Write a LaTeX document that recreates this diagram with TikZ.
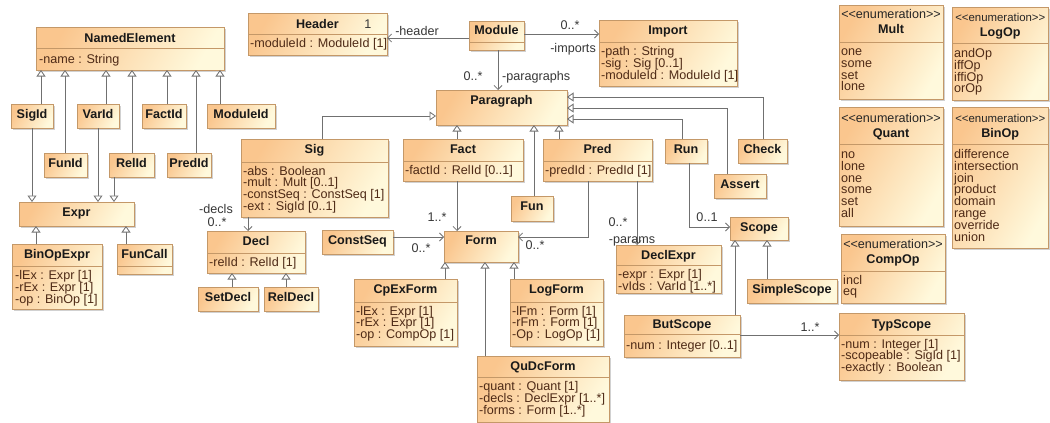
\documentclass[tikz,border=0pt]{standalone}
\usepackage{fontspec}
\newfontfamily\uml{Liberation Sans}
\usetikzlibrary{arrows.meta,shadows,calc}
\definecolor{umlL}{RGB}{250,198,142}
\definecolor{umlR}{RGB}{255,249,220}
\definecolor{umlBorder}{RGB}{196,152,104}
\definecolor{umlText}{RGB}{78,42,22}
\definecolor{umlLine}{RGB}{112,112,112}
\definecolor{umlLbl}{RGB}{55,55,55}
\newcommand\umlsize{\fontsize{12.6}{11.8}\selectfont}
\tikzset{
  cls/.style={draw=umlBorder, line width=0.8pt, left color=umlL, right color=umlR, shading angle=60,
    drop shadow={shadow xshift=2.2pt,shadow yshift=-2.2pt,fill=black!40,opacity=0.45},
    inner sep=0pt, outer sep=0pt, anchor=north west},
  divl/.style={draw=umlBorder, line width=0.8pt},
  ttl/.style={font=\uml\umlsize\bfseries, text=black!90, inner sep=0pt, text height=9pt, text depth=0pt},
  att/.style={font=\uml\umlsize, text=umlText, inner sep=0pt, anchor=west, text height=9pt, text depth=0pt},
  ster/.style={font=\uml\umlsize, text=black!85, inner sep=0pt, text height=9pt, text depth=0pt},
  sters/.style={ster, font=\uml\fontsize{11.4}{11.8}\selectfont},
  lbl/.style={font=\uml\umlsize, text=umlLbl, inner sep=0pt, text height=9pt, text depth=0pt},
  gen/.style={draw=umlLine, line width=0.8pt, -{Triangle[open, length=6.5pt, width=9pt, fill=white]}},
  assoc/.style={draw=umlLine, line width=0.8pt, -{Straight Barb[length=4pt, width=8pt]}},
}
% name, x1, y1, x2, y2, title, title y
\newcommand\uclass[7]{%
  \node[cls, minimum width={#4-#2}, minimum height={#5-#3}] (#1) at (#2,#3) {};
  \node[ttl] (#1-t) at ({(#2+#4)/2},#7) {#6};}
\newcommand\udiv[2]{\draw[divl] (#1.west |- 0,#2) -- (#1.east |- 0,#2);}
% name, x, first y, list
\newcommand\uattrs[4]{%
  \foreach \t [count=\i from 1] in {#4} {\node[att] (#1-a\i) at (#2,{#3+(\i-1)*11.8}) {\t};}}
\newcommand\uster[4][ster]{\node[#1] (#2-s) at ({#3},#4) {<\kern0pt<enumeration>\kern0pt>};}
\begin{document}
\begin{tikzpicture}[x=1pt,y=-1pt]
\useasboundingbox (0,0) rectangle (1050,423);
\clip (0,0) rectangle (1050,423);
\fill[white] (0,0) rectangle (1050,423);

% ---- left identifier hierarchy
\uclass{NE}{36}{27}{224}{70}{NamedElement}{37.5}
\udiv{NE}{48}
\uattrs{NE}{39}{58.5}{{-name : String}}
\uclass{SigId}{11}{104}{53}{128}{SigId}{114}
\uclass{VarId}{77}{104}{119}{128}{VarId}{114}
\uclass{FactId}{142}{104}{186}{128}{FactId}{114}
\uclass{ModuleId}{207}{104}{275}{128}{ModuleId}{114}
\uclass{FunId}{44}{153}{87}{177}{FunId}{163}
\uclass{RelId}{109}{153}{154}{177}{RelId}{163}
\uclass{PredId}{167}{153}{211}{177}{PredId}{163}
\uclass{Expr}{19}{202}{134}{226}{Expr}{212}
\uclass{BinOpExpr}{12}{244}{102}{309}{BinOpExpr}{254}
\udiv{BinOpExpr}{266}
\uattrs{BinOpExpr}{15}{275}{{-lEx : Expr [1]},{-rEx : Expr [1]},{-op : BinOp [1]}}
\uclass{FunCall}{117}{244}{172}{274}{FunCall}{254}
\udiv{FunCall}{266}

% ---- module
\uclass{Header}{248}{13}{387}{55}{Header}{23.5}
\udiv{Header}{34}
\uattrs{Header}{250}{43}{{-moduleId : ModuleId [1]}}
\uclass{Module}{469}{21}{524}{50}{Module}{30}
\udiv{Module}{42}
\uclass{Import}{599}{20}{737}{86}{Import}{30}
\udiv{Import}{42}
\uattrs{Import}{601}{51}{{-path : String},{-sig : Sig [0..1]},{-moduleId : ModuleId [1]}}
\uclass{Paragraph}{436}{90}{567}{125}{Paragraph}{100}

% ---- paragraphs
\uclass{Sig}{241}{139}{388}{217}{Sig}{149}
\udiv{Sig}{162}
\uattrs{Sig}{243}{170.5}{{-abs : Boolean},{-mult : Mult [0..1]},{-constSeq : ConstSeq [1]},{-ext : SigId [0..1]}}
\uclass{Fact}{403}{139}{523}{181}{Fact}{149}
\udiv{Fact}{161}
\uattrs{Fact}{405}{170}{{-factId : RelId [0..1]}}
\uclass{Pred}{543}{139}{652}{181}{Pred}{149}
\udiv{Pred}{161}
\uattrs{Pred}{545}{170}{{-predId : PredId [1]}}
\uclass{Run}{665}{139}{707}{163}{Run}{149}
\uclass{Check}{738}{139}{787}{163}{Check}{149}
\uclass{Assert}{714}{174}{766}{198}{Assert}{184}
\uclass{Fun}{511}{196}{553}{221}{Fun}{206}

% ---- declarations / formulas
\uclass{Decl}{207}{231}{305}{273}{Decl}{241}
\udiv{Decl}{253}
\uattrs{Decl}{209}{261.5}{{-relId : RelId [1]}}
\uclass{SetDecl}{198}{287}{258}{311}{SetDecl}{297}
\uclass{RelDecl}{264}{287}{318}{311}{RelDecl}{297}
\uclass{ConstSeq}{322}{230}{393}{254}{ConstSeq}{240}
\uclass{Form}{444}{231}{518}{262}{Form}{240}
\uclass{CpExForm}{354}{279}{457}{346}{CpExForm}{289}
\udiv{CpExForm}{302}
\uattrs{CpExForm}{356}{310.5}{{-lEx : Expr [1]},{-rEx : Expr [1]},{-op : CompOp [1]}}
\uclass{LogForm}{510}{279}{603}{346}{LogForm}{289}
\udiv{LogForm}{302}
\uattrs{LogForm}{512}{310.5}{{-lFm : Form [1]},{-rFm : Form [1]},{-Op : LogOp [1]}}
\uclass{QuDcForm}{477}{356}{609}{422}{QuDcForm}{366}
\udiv{QuDcForm}{377}
\uattrs{QuDcForm}{479}{386}{{-quant : Quant [1]},{-decls : DeclExpr [1..*]},{-forms : Form [1..*]}}
\uclass{DeclExpr}{616}{245}{721}{293}{DeclExpr}{255}
\udiv{DeclExpr}{265}
\uattrs{DeclExpr}{618}{274}{{-expr : Expr [1]},{-vIds : VarId [1..*]}}

% ---- scopes
\uclass{Scope}{730}{217}{788}{240}{Scope}{227}
\uclass{SimpleScope}{747}{279}{837}{303}{SimpleScope}{289}
\uclass{ButScope}{624}{315}{740}{357}{ButScope}{324}
\udiv{ButScope}{334}
\uattrs{ButScope}{626}{345}{{-num : Integer [0..1]}}
\uclass{TypScope}{839}{313}{964}{380}{TypScope}{323.5}
\udiv{TypScope}{335}
\uattrs{TypScope}{841}{343.5}{{-num : Integer [1]},{-scopeable : SigId [1]},{-exactly : Boolean}}

% ---- enumerations
\uclass{Mult}{839}{5}{943}{99}{Mult}{29.5}
\uster{Mult}{891}{14.5}
\udiv{Mult}{42}
\uattrs{Mult}{841}{51}{one,some,set,lone}
\uclass{LogOp}{952}{7}{1048.5}{100}{LogOp}{32}
\uster[sters]{LogOp}{1000.3}{16.5}
\udiv{LogOp}{43}
\uattrs{LogOp}{954}{53}{andOp,iffOp,iffiOp,orOp}
\uclass{Quant}{839}{107}{943}{226}{Quant}{133}
\uster{Quant}{891}{117.5}
\udiv{Quant}{144}
\uattrs{Quant}{841}{154}{no,lone,one,some,set,all}
\uclass{BinOp}{952}{107}{1048.5}{248}{BinOp}{133}
\uster[sters]{BinOp}{1000.3}{117.5}
\udiv{BinOp}{144}
\uattrs{BinOp}{954}{154}{difference,intersection,join,product,domain,range,override,union}
\uclass{CompOp}{841}{234}{945}{303}{CompOp}{258.5}
\uster{CompOp}{893}{243.5}
\udiv{CompOp}{271}
\uattrs{CompOp}{843}{279.5}{incl,eq}

% ---- generalizations
\draw[gen] (41,0 |- SigId.north) -- (41,0 |- NE.south);
\draw[gen] (65,0 |- FunId.north) -- (65,0 |- NE.south);
\draw[gen] (106,0 |- VarId.north) -- (106,0 |- NE.south);
\draw[gen] (132,0 |- RelId.north) -- (132,0 |- NE.south);
\draw[gen] (167,0 |- FactId.north) -- (167,0 |- NE.south);
\draw[gen] (196,0 |- PredId.north) -- (196,0 |- NE.south);
\draw[gen] (220,0 |- ModuleId.north) -- (220,0 |- NE.south);
\draw[gen] (32,0 |- SigId.south) -- (32,0 |- Expr.north);
\draw[gen] (98,0 |- VarId.south) -- (98,0 |- Expr.north);
\draw[gen] (114,0 |- RelId.south) -- (114,0 |- Expr.north);
\draw[gen] (36,0 |- BinOpExpr.north) -- (36,0 |- Expr.south);
\draw[gen] (126,0 |- FunCall.north) -- (126,0 |- Expr.south);
\draw[gen] (322,0 |- Sig.north) |- (Paragraph.west |- 0,116);
\draw[gen] (457,0 |- Fact.north) -- (457,0 |- Paragraph.south);
\draw[gen] (534,0 |- Fun.north) -- (534,0 |- Paragraph.south);
\draw[gen] (559,0 |- Pred.north) -- (559,0 |- Paragraph.south);
\draw[gen] (682,0 |- Run.north) |- (Paragraph.east |- 0,119);
\draw[gen] (727,0 |- Assert.north) |- (Paragraph.east |- 0,108);
\draw[gen] (763,0 |- Check.north) |- (Paragraph.east |- 0,97);
\draw[gen] (232,0 |- SetDecl.north) -- (232,0 |- Decl.south);
\draw[gen] (286,0 |- RelDecl.north) -- (286,0 |- Decl.south);
\draw[gen] (445,0 |- CpExForm.north) -- (445,0 |- Form.south);
\draw[gen] (485,0 |- QuDcForm.north) -- (485,0 |- Form.south);
\draw[gen] (514,0 |- LogForm.north) -- (514,0 |- Form.south);
\draw[gen] (735,0 |- ButScope.north) -- (735,0 |- Scope.south);
\draw[gen] (767,0 |- SimpleScope.north) -- (767,0 |- Scope.south);

% ---- associations
\draw[assoc] (Module.west |- 0,38) -- (Header.east |- 0,38);
\draw[assoc] (Module.east |- 0,34) -- (Import.west |- 0,34);
\draw[assoc] (498,0 |- Module.south) -- (498,0 |- Paragraph.north);
\draw[assoc] (248,0 |- Sig.south) -- (248,0 |- Decl.north);
\draw[assoc] (457,0 |- Fact.south) -- (457,0 |- Form.north);
\draw[assoc] (ConstSeq.east |- 0,237) -- (Form.west |- 0,237);
\draw[assoc] (588,0 |- Pred.south) |- (Form.east |- 0,237);
\draw[assoc] (637,0 |- Pred.south) -- (637,0 |- DeclExpr.north);
\draw[assoc] (689,0 |- Run.south) |- (Scope.west |- 0,227);
\draw[assoc] (ButScope.east |- 0,335) -- (TypScope.west |- 0,335);

% ---- association labels
\node[lbl] (lHeader) at (417,30.5) {-header};
\node[lbl] (lHeaderM) at (368,23.5) {1};
\node[lbl] (lImpM) at (570,24.5) {0..*};
\node[lbl, anchor=east] (lImp) at (596,48) {-imports};
\node[lbl] (lParM) at (473,76) {0..*};
\node[lbl, anchor=west] (lPar) at (502,75.5) {-paragraphs};
\node[lbl] (lDecls) at (216,209) {-decls};
\node[lbl] (lDeclsM) at (217,222) {0..*};
\node[lbl] (lFactM) at (437,216.5) {1..*};
\node[lbl] (lCsM) at (421,247.5) {0..*};
\node[lbl] (lPredM) at (535,245) {0..*};
\node[lbl] (lParamsM) at (618,221.5) {0..*};
\node[lbl] (lParams) at (632,238.5) {-params};
\node[lbl] (lRunM) at (707,216.5) {0..1};
\node[lbl] (lButM) at (810,327) {1..*};
\end{tikzpicture}
\end{document}
